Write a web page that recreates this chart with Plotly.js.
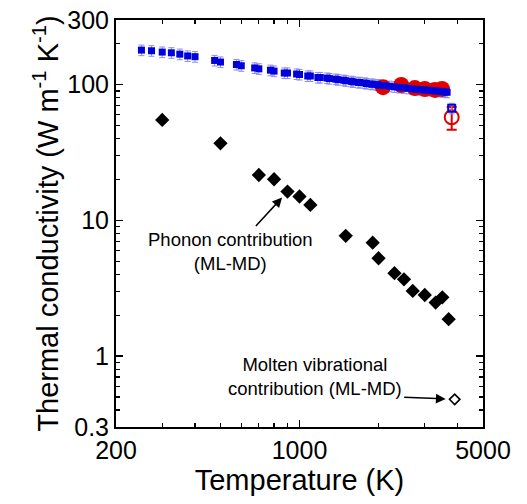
<!DOCTYPE html>
<html><head><meta charset="utf-8">
<script src="https://cdn.plot.ly/plotly-3.0.1.min.js"></script>
<style>html,body{margin:0;padding:0;background:#fff}#chart{width:527px;height:504px}</style>
</head><body><div id="chart"></div>
<script>
// Total thermal conductivity (calculated, solid)
const tempTotal = [250, 273, 300, 325, 350, 375, 400, 475, 500, 575, 600, 675, 700, 775, 800, 875, 900, 975, 1000, 1075, 1100, 1175, 1200, 1275, 1300, 1375, 1400, 1475, 1500, 1575, 1600, 1675, 1700, 1775, 1800, 1875, 1900, 1975, 2000, 2100, 2200, 2300, 2400, 2500, 2600, 2700, 2800, 2900, 3000, 3100, 3200, 3300, 3400, 3500, 3600, 3650];
const kTotal = [180, 178, 174, 172, 168, 163, 161, 151, 147, 141, 138, 133, 131, 128, 126, 122, 122, 120, 119, 116, 116, 113, 113, 112, 111, 110, 109, 108, 107, 106, 105, 104, 104, 103, 102, 101, 101, 100, 99.5, 98.5, 97.5, 96.5, 95.5, 95, 94, 93, 92.5, 92, 91.5, 91, 90.5, 90, 89.5, 89, 88.5, 88];
// Experimental (solid)
const tempExpt = [2080, 2440, 2750, 3000, 3280, 3490];
const kExpt = [96, 99.5, 94.5, 93, 91.5, 93];
// Liquid
const tempLiquid = [3800];
const kLiquidCalc = [67];
const kLiquidCalcErr = [6];
const kLiquidExpt = [57.6];
const kLiquidExptErr = [11];
// Phonon contribution (ML-MD)
const tempPhonon = [300, 500, 700, 800, 900, 1000, 1100, 1500, 1900, 2000, 2300, 2500, 2700, 3000, 3300, 3500, 3700];
const kPhonon = [55, 37, 21.6, 20.1, 16.3, 15.0, 13.0, 7.7, 6.85, 5.26, 4.08, 3.68, 3.02, 2.82, 2.48, 2.71, 1.87];
// Molten vibrational contribution
const tempMolten = [3900];
const kMolten = [0.48];
// Axis ticks
const xTickVals = [200, 1000, 5000];
const xTickText = ['200', '1000', '5000'];
const xMinor = [300, 400, 500, 600, 700, 800, 900, 2000, 3000, 4000];
const yTickVals = [0.3, 1, 10, 100, 300];
const yTickText = ['0.3', '1', '10', '100', '300'];
const yMinor = [0.4, 0.5, 0.6, 0.7, 0.8, 0.9, 2, 3, 4, 5, 6, 7, 8, 9, 20, 30, 40, 50, 60, 70, 80, 90, 200];

const FONT = 'Liberation Sans, Arial, sans-serif';
const blue = '#0000dd';
const errBlue = '#8c8cf0';
const red = '#e00000';

const traces = [
  // error bars of the calculated total (drawn underneath)
  {x: tempTotal, y: kTotal, mode: 'markers', type: 'scatter',
   marker: {symbol: 'square', size: 7, color: blue, opacity: 0},
   error_y: {type: 'percent', value: 9, color: errBlue, thickness: 1, width: 3}},
  {x: tempExpt, y: kExpt, mode: 'markers', type: 'scatter',
   marker: {symbol: 'circle', size: 16, color: red}},
  {x: tempTotal, y: kTotal, mode: 'markers', type: 'scatter',
   marker: {symbol: 'square', size: 7, color: blue}},
  {x: tempLiquid, y: kLiquidExpt, mode: 'markers', type: 'scatter',
   marker: {symbol: 'circle-open', size: 14, color: red, line: {width: 2, color: red}},
   error_y: {type: 'data', array: kLiquidExptErr, color: red, thickness: 2, width: 5}},
  {x: tempLiquid, y: kLiquidCalc, mode: 'markers', type: 'scatter',
   marker: {symbol: 'square-open', size: 7, color: blue, line: {width: 2, color: blue}},
   error_y: {type: 'data', array: kLiquidCalcErr, color: errBlue, thickness: 1, width: 3}},
  {x: tempPhonon, y: kPhonon, mode: 'markers', type: 'scatter',
   marker: {symbol: 'diamond', size: 11, color: '#000'}},
  {x: tempMolten, y: kMolten, mode: 'markers', type: 'scatter',
   marker: {symbol: 'diamond-open', size: 8, color: '#000', line: {width: 1.6, color: '#000'}}}
];

const axisCommon = {
  type: 'log', showgrid: false, zeroline: false,
  showline: true, linecolor: '#000', linewidth: 2, mirror: 'allticks',
  ticks: 'inside', ticklen: 7, tickwidth: 1.5, tickcolor: '#000',
  tickfont: {family: FONT, size: 25, color: '#000'}
};

const layout = {
  width: 527, height: 504,
  margin: {l: 116, r: 44, t: 20, b: 77},
  paper_bgcolor: '#fff', plot_bgcolor: '#fff',
  showlegend: false,
  font: {family: FONT, color: '#000'},
  xaxis: Object.assign({}, axisCommon, {
    range: [Math.log10(200), Math.log10(5000)],
    tickmode: 'array', tickvals: xTickVals, ticktext: xTickText,
    minor: {tickmode: 'array', tickvals: xMinor, ticks: 'inside', ticklen: 4, tickwidth: 1.2, tickcolor: '#000', showgrid: false},
    title: {text: 'Temperature (K)', font: {family: FONT, size: 29, color: '#000'}, standoff: 6}
  }),
  yaxis: Object.assign({}, axisCommon, {
    range: [Math.log10(0.3), Math.log10(300)],
    tickmode: 'array', tickvals: yTickVals, ticktext: yTickText,
    minor: {tickmode: 'array', tickvals: yMinor, ticks: 'inside', ticklen: 4, tickwidth: 1.2, tickcolor: '#000', showgrid: false},
    title: {text: 'Thermal conductivity (W m<sup>-1</sup> K<sup>-1</sup>)', font: {family: FONT, size: 29, color: '#000'}, standoff: 0}
  }),
  annotations: [
    {xref: 'paper', yref: 'paper', x: 0.311, y: 0.43, xanchor: 'center', yanchor: 'middle', showarrow: false,
     text: 'Phonon contribution<br>(ML-MD)', font: {family: FONT, size: 18.5, color: '#000'}, align: 'center'},
    {xref: 'x', yref: 'y', x: Math.log10(tempPhonon[4]), y: Math.log10(kPhonon[4]), text: '',
     showarrow: true, arrowhead: 2, arrowsize: 1.3, arrowwidth: 1.5, arrowcolor: '#000', standoff: 8,
     axref: 'pixel', ayref: 'pixel', ax: -33, ay: 36},
    {xref: 'paper', yref: 'paper', x: 0.542, y: 0.125, xanchor: 'center', yanchor: 'middle', showarrow: false,
     text: 'Molten vibrational<br>contribution (ML-MD)', font: {family: FONT, size: 18.5, color: '#000'}, align: 'center'},
    {xref: 'x', yref: 'y', x: Math.log10(tempMolten[0]), y: Math.log10(kMolten[0]), text: '',
     showarrow: true, arrowhead: 2, arrowsize: 1.3, arrowwidth: 1.5, arrowcolor: '#000', standoff: 9,
     axref: 'pixel', ayref: 'pixel', ax: -52, ay: -2}
  ]
};

Plotly.newPlot('chart', traces, layout, {displayModeBar: false, staticPlot: true});
</script>
</body></html>
